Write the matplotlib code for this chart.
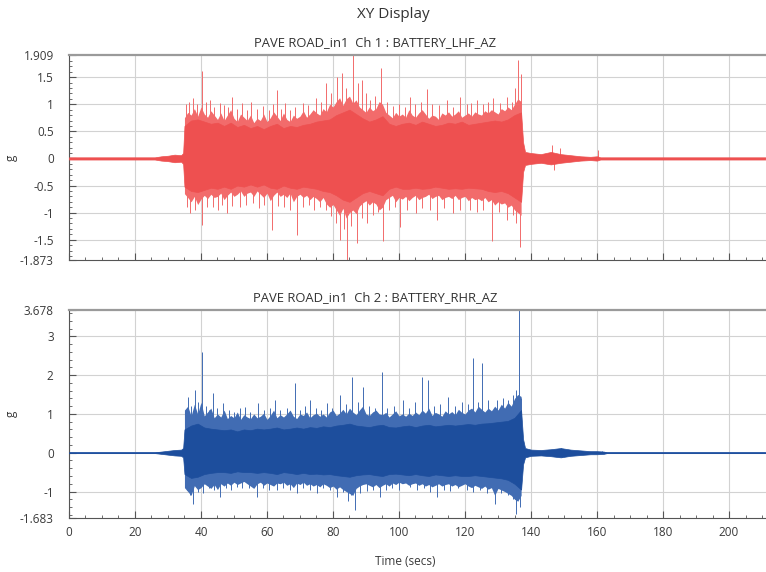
import numpy as np
import matplotlib.pyplot as plt
from matplotlib.ticker import MultipleLocator, FixedLocator

plt.rcParams['font.family'] = ['Open Sans', 'DejaVu Sans']

# ---- Ch 1 : BATTERY_LHF_AZ (in g) ----
# dense core envelope
t1_core = [0, 26, 28, 30, 32, 34, 34.6, 35, 37, 39, 41, 43, 45, 47, 49, 51, 53, 55, 57, 59,
           61, 63, 65, 67, 69, 71, 73, 75, 77, 79, 81, 83, 85, 87, 89, 91, 93, 95, 97, 99,
           101, 103, 105, 107, 109, 111, 113, 115, 117, 119, 121, 123, 125, 127, 129, 131,
           133, 135, 137, 137.6, 138.2, 140, 143, 146, 149, 152, 155, 158, 160, 161, 163, 211]
up1_core = [0.02, 0.02, 0.04, 0.05, 0.07, 0.06, 0.1, 0.6, 0.7, 0.72, 0.68, 0.64, 0.66, 0.6, 0.66, 0.58, 0.62, 0.56, 0.6, 0.54,
            0.6, 0.64, 0.56, 0.6, 0.58, 0.62, 0.64, 0.68, 0.7, 0.72, 0.8, 0.85, 0.9, 0.82, 0.74, 0.68, 0.72, 0.78, 0.64, 0.6,
            0.64, 0.66, 0.62, 0.68, 0.64, 0.6, 0.62, 0.66, 0.64, 0.68, 0.62, 0.64, 0.66, 0.68, 0.7, 0.68,
            0.72, 0.8, 0.85, 0.3, 0.12, 0.1, 0.08, 0.12, 0.08, 0.06, 0.04, 0.03, 0.04, 0.02, 0.02, 0.02]
lo1_core = [-0.02, -0.02, -0.04, -0.05, -0.07, -0.06, -0.1, -0.52, -0.6, -0.62, -0.58, -0.54, -0.56, -0.52, -0.56, -0.5, -0.52, -0.48, -0.52, -0.48,
            -0.54, -0.56, -0.5, -0.54, -0.56, -0.52, -0.54, -0.56, -0.6, -0.62, -0.68, -0.76, -0.8, -0.72, -0.64, -0.6, -0.64, -0.68, -0.56, -0.52,
            -0.56, -0.56, -0.54, -0.56, -0.55, -0.52, -0.54, -0.56, -0.55, -0.56, -0.54, -0.55, -0.56, -0.6, -0.62, -0.6,
            -0.64, -0.72, -0.8, -0.25, -0.12, -0.1, -0.08, -0.11, -0.08, -0.06, -0.04, -0.03, -0.04, -0.02, -0.02, -0.02]

# lighter fringe, one value per second from 35 s to 137 s
t1_fr = list(range(35, 138))
up1_fr = [0.75, 0.85, 0.8, 0.92, 0.78, 0.95, 0.82, 0.76, 0.88, 0.8,
          0.72, 0.84, 0.7, 0.8, 0.9, 0.74, 0.68, 0.82, 0.76, 0.7,
          0.8, 0.66, 0.74, 0.7, 0.82, 0.68, 0.75, 0.86, 0.78, 0.7,
          0.84, 0.72, 0.68, 0.8, 0.74, 0.78, 0.88, 0.76, 0.82, 0.9,
          0.84, 0.8, 0.92, 0.86, 1.0, 0.95, 1.05, 1.12, 0.98, 1.1,
          1.15, 1.02, 1.08, 0.95, 0.9, 0.85, 0.95, 0.88, 0.92, 1.05,
          1.0, 0.85, 0.8, 0.75, 0.85, 0.78, 0.82, 0.76, 0.9, 0.8,
          0.76, 0.84, 0.9, 0.82, 0.74, 0.8, 0.78, 0.72, 0.84, 0.8,
          0.86, 0.78, 0.82, 0.88, 0.76, 0.8, 0.84, 0.78, 0.86, 0.82,
          0.8, 0.88, 0.84, 0.9, 0.86, 0.82, 0.92, 0.88, 0.95, 0.9,
          1.0, 1.1, 1.05]
lo1_fr = [-0.65, -0.72, -0.8, -0.7, -0.85, -0.75, -0.68, -0.74, -0.66, -0.72,
          -0.7, -0.64, -0.76, -0.68, -0.62, -0.7, -0.66, -0.6, -0.7, -0.64,
          -0.62, -0.7, -0.6, -0.66, -0.72, -0.64, -0.78, -0.68, -0.62, -0.7,
          -0.66, -0.72, -0.64, -0.8, -0.7, -0.66, -0.72, -0.68, -0.76, -0.7,
          -0.74, -0.8, -0.72, -0.84, -0.9, -0.85, -0.95, -1.05, -0.92, -1.1,
          -1.0, -0.95, -1.02, -0.88, -0.82, -0.78, -0.86, -0.8, -0.84, -0.95,
          -0.9, -0.76, -0.72, -0.68, -0.8, -0.72, -0.75, -0.7, -0.78, -0.72,
          -0.68, -0.76, -0.72, -0.7, -0.66, -0.74, -0.7, -0.68, -0.76, -0.72,
          -0.7, -0.74, -0.68, -0.76, -0.72, -0.7, -0.78, -0.72, -0.76, -0.74,
          -0.78, -0.72, -0.8, -0.76, -0.86, -0.8, -0.84, -0.82, -0.9, -0.86,
          -0.95, -1.0, -1.05]

# single spikes above / below
t1_pk = [35.5, 36.5, 37.7, 38.8, 40.2, 41.5, 42.7, 44.0, 45.7, 47.0, 48.2, 49.3, 50.8, 52.3, 53.8, 55.3, 57.0,
         58.9, 60.5, 61.8, 63.0, 64.3, 65.5, 67.0, 68.5, 71.0, 72.5, 75.0, 76.5, 78.0, 79.5, 81.1, 82.6, 84.0,
         86.1, 87.5, 88.7, 90.0, 91.2, 92.8, 94.7, 96.5, 98.3, 100.0, 101.8, 103.3, 105.0, 106.8, 108.4, 110.0,
         112.0, 114.4, 116.5, 118.5, 120.5, 121.8, 123.5, 125.5, 127.0, 128.6, 130.5, 132.7, 134.2, 135.2, 136.2, 137.1,
         146.5, 148.8, 160.2]
v1_pk = [1.0, 1.05, 1.11, 1.0, 1.62, 1.05, 1.08, 0.95, 1.02, 0.98, 0.95, 1.14, 0.92, 1.02, 0.9, 1.05, 0.92,
         0.96, 0.9, 1.0, 1.26, 0.92, 1.02, 0.9, 0.95, 1.02, 0.98, 1.11, 1.05, 1.39, 1.2, 1.51, 1.57, 1.3,
         1.91, 1.4, 1.45, 1.2, 1.08, 1.15, 1.66, 1.05, 0.96, 1.0, 0.95, 1.14, 1.0, 1.05, 1.29, 1.0,
         0.98, 1.08, 0.95, 1.14, 1.0, 1.02, 1.08, 1.0, 1.05, 1.11, 1.02, 1.14, 1.05, 1.3, 1.82, 1.55,
         0.25, 0.2, 0.15]
t1_tr = [35.8, 36.7, 38.2, 40.2, 41.7, 43.7, 45.2, 46.5, 47.8, 49.5, 51.8, 53.5, 55.9, 57.5, 59.2, 61.5,
         63.2, 65.2, 67.0, 69.1, 71.0, 72.8, 74.2, 76.0, 77.8, 79.3, 80.8, 82.1, 83.2, 84.1, 85.5, 87.2,
         88.8, 90.2, 92.0, 93.5, 95.2, 97.0, 98.8, 100.3, 102.5, 105.3, 107.0, 109.5, 111.4, 113.5, 116.4,
         118.5, 121.5, 123.5, 125.5, 128.1, 130.2, 132.7, 134.5, 135.6, 136.7, 147.0]
v1_tr = [-0.9, -1.01, -0.95, -1.23, -0.9, -0.89, -0.95, -0.85, -1.01, -0.88, -0.89, -0.85, -0.83, -0.92, -0.85, -1.32,
         -0.88, -0.89, -0.95, -1.41, -0.9, -0.85, -0.95, -0.9, -0.95, -1.07, -1.2, -1.5, -1.3, -1.87, -1.25, -1.56,
         -1.1, -1.2, -1.05, -0.98, -1.53, -0.95, -0.9, -1.26, -0.95, -1.01, -0.92, -0.95, -1.13, -0.92, -1.01,
         -0.95, -0.95, -0.98, -0.95, -1.53, -0.98, -1.13, -1.05, -1.2, -1.63, -0.22]

# ---- Ch 2 : BATTERY_RHR_AZ ----
t2_core = [0, 26, 28, 30, 32, 34, 34.6, 35, 37, 39, 41, 43, 45, 47, 49, 51, 53, 55, 57, 59,
           61, 63, 65, 67, 69, 71, 73, 75, 77, 79, 81, 83, 85, 87, 89, 91, 93, 95, 97, 99,
           101, 103, 105, 107, 109, 111, 113, 115, 117, 119, 121, 123, 125, 127, 129, 131,
           133, 135, 137, 137.6, 138.2, 140, 143, 146, 149, 152, 155, 158, 160, 162, 163, 211]
up2_core = [0.01, 0.01, 0.03, 0.05, 0.07, 0.08, 0.12, 0.6, 0.7, 0.75, 0.65, 0.62, 0.6, 0.58, 0.6, 0.55, 0.6, 0.58, 0.62, 0.6,
            0.62, 0.65, 0.6, 0.62, 0.65, 0.62, 0.66, 0.64, 0.68, 0.66, 0.7, 0.72, 0.75, 0.7, 0.68, 0.66, 0.7, 0.72, 0.66, 0.65,
            0.68, 0.7, 0.66, 0.7, 0.72, 0.68, 0.7, 0.72, 0.7, 0.72, 0.74, 0.72, 0.75, 0.76, 0.78, 0.8,
            0.82, 0.9, 1.1, 0.35, 0.12, 0.08, 0.07, 0.09, 0.12, 0.08, 0.06, 0.04, 0.04, 0.03, 0.01, 0.01]
lo2_core = [-0.01, -0.01, -0.03, -0.05, -0.07, -0.08, -0.12, -0.55, -0.65, -0.62, -0.55, -0.52, -0.5, -0.5, -0.52, -0.48, -0.5, -0.5, -0.52, -0.5,
            -0.52, -0.55, -0.5, -0.52, -0.55, -0.52, -0.55, -0.54, -0.56, -0.55, -0.58, -0.6, -0.62, -0.58, -0.56, -0.55, -0.58, -0.6, -0.55, -0.54,
            -0.56, -0.58, -0.55, -0.58, -0.6, -0.56, -0.58, -0.6, -0.58, -0.6, -0.6, -0.58, -0.6, -0.62, -0.64, -0.66,
            -0.7, -0.8, -0.95, -0.3, -0.12, -0.08, -0.07, -0.09, -0.12, -0.08, -0.06, -0.04, -0.04, -0.03, -0.01, -0.01]

t2_fr = list(range(35, 138))
up2_fr = [1.1, 1.2, 0.95, 1.25, 1.0, 1.3, 0.95, 1.05, 1.15, 0.9,
          1.0, 0.92, 1.1, 0.88, 0.96, 0.9, 1.05, 0.86, 0.98, 0.92,
          0.88, 1.0, 0.9, 0.94, 1.02, 0.86, 0.96, 1.1, 0.9, 0.98,
          0.92, 1.0, 1.1, 0.94, 0.88, 1.0, 0.96, 1.05, 0.9, 0.98,
          1.02, 0.94, 1.0, 0.92, 1.05, 1.1, 0.96, 1.02, 1.12, 1.0,
          1.15, 1.05, 0.98, 1.1, 1.2, 1.0, 0.96, 1.05, 1.1, 1.0,
          0.98, 1.04, 0.92, 1.0, 1.08, 0.95, 1.0, 0.94, 1.02, 0.96,
          1.05, 0.98, 1.1, 1.02, 1.15, 0.96, 1.04, 1.0, 0.94, 1.08,
          1.0, 1.06, 0.98, 1.12, 1.04, 1.0, 1.1, 1.15, 1.05, 1.2,
          1.12, 1.05, 1.15, 1.08, 1.2, 1.1, 1.25, 1.15, 1.3, 1.2,
          1.4, 1.5, 1.45]
lo2_fr = [-0.9, -1.0, -1.1, -0.85, -0.95, -0.9, -0.8, -0.86, -0.92, -0.82,
          -0.95, -0.8, -0.86, -0.78, -0.84, -0.76, -0.82, -0.78, -0.74, -0.8,
          -0.86, -0.92, -0.8, -0.76, -0.84, -0.78, -0.82, -0.86, -0.78, -0.8,
          -0.76, -0.84, -0.8, -0.9, -0.78, -0.82, -0.76, -0.84, -0.8, -0.86,
          -0.82, -0.88, -0.8, -0.84, -0.9, -0.86, -0.94, -0.88, -0.95, -1.0,
          -1.05, -1.1, -0.92, -0.86, -0.82, -0.8, -0.84, -0.88, -0.82, -0.9,
          -0.84, -0.8, -0.86, -0.78, -0.82, -0.76, -0.8, -0.78, -0.84, -0.8,
          -0.78, -0.84, -0.8, -0.86, -0.82, -0.88, -0.84, -0.8, -0.86, -0.82,
          -0.8, -0.86, -0.82, -0.88, -0.84, -0.8, -0.86, -0.9, -0.84, -0.88,
          -0.92, -0.86, -0.94, -0.9, -1.1, -0.92, -0.96, -1.0, -1.05, -1.1,
          -1.2, -1.25, -1.1]

t2_pk = [35.5, 36.2, 37.0, 38.2, 39.2, 40.2, 41.5, 42.5, 43.7, 45.0, 46.8, 48.5, 50.0, 51.8, 53.3, 55.0, 57.4,
         59.0, 60.8, 62.4, 64.0, 66.0, 68.5, 70.0, 71.5, 73.0, 75.0, 76.5, 78.1, 79.8, 82.1, 84.0, 85.7, 87.5,
         89.2, 91.0, 92.8, 94.8, 96.5, 98.5, 101.3, 103.0, 105.0, 106.9, 108.9, 110.5, 112.5, 115.0, 117.0, 119.0,
         120.8, 122.5, 124.0, 125.1, 127.0, 129.6, 131.5, 133.0, 134.5, 135.5, 136.4, 137.0, 149.0, 161.5]
v2_pk = [1.1, 1.44, 1.2, 1.62, 1.3, 2.6, 1.2, 1.1, 1.53, 1.15, 1.27, 1.1, 1.05, 1.15, 1.18, 1.05, 1.27,
         1.1, 1.15, 1.36, 1.1, 1.15, 1.79, 1.1, 1.2, 1.36, 1.15, 1.1, 1.27, 1.15, 1.49, 1.25, 1.96, 1.3,
         1.7, 1.2, 1.15, 2.09, 1.15, 1.2, 1.36, 1.15, 1.3, 1.96, 1.87, 1.2, 1.25, 1.44, 1.2, 1.3,
         1.25, 2.43, 1.3, 2.3, 1.35, 1.36, 1.4, 1.35, 1.5, 1.62, 3.678, 1.4, 0.12, 0.05]
t2_tr = [35.8, 36.8, 37.7, 39.0, 40.7, 42.5, 44.0, 45.8, 47.5, 49.2, 50.8, 52.5, 54.5, 56.9, 58.8, 60.5, 62.9,
         64.8, 67.0, 69.0, 71.0, 73.0, 75.1, 77.0, 79.0, 81.1, 83.0, 84.5, 85.5, 86.7, 88.2, 90.2, 92.0, 94.2,
         96.0, 98.0, 100.0, 103.3, 105.5, 107.5, 109.5, 111.4, 113.5, 115.5, 118.0, 120.5, 122.5, 124.5, 126.8,
         129.1, 131.0, 133.0, 134.5, 135.6, 136.6, 149.5]
v2_tr = [-0.95, -1.1, -1.31, -1.0, -1.05, -0.9, -0.95, -1.14, -0.9, -0.95, -0.88, -0.9, -0.92, -1.14, -0.9, -0.95, -0.96,
         -0.9, -0.95, -1.05, -0.92, -0.95, -1.05, -0.9, -0.95, -1.14, -1.0, -1.25, -1.1, -1.48, -1.05, -0.98, -0.95, -1.14,
         -0.95, -0.92, -0.95, -0.88, -0.95, -0.92, -1.0, -1.14, -0.95, -0.98, -0.92, -0.96, -1.0, -0.95, -1.05,
         -1.31, -1.05, -1.1, -1.2, -1.57, -1.4, -0.12]

ylim1 = (-1.873, 1.909)
ylim2 = (-1.683, 3.678)
yticks1 = [-1.873, -1.5, -1, -0.5, 0, 0.5, 1, 1.5, 1.909]
yticks2 = [-1.683, -1, 0, 1, 2, 3, 3.678]
xticks = [0, 20, 40, 60, 80, 100, 120, 140, 160, 180, 200]


def style(ax, ylim, yticks, ygrid, yminor):
    ax.set_xlim(0, 211.2)
    ax.set_ylim(*ylim)
    ax.set_xticks(xticks)
    ax.xaxis.set_minor_locator(MultipleLocator(5))
    ax.yaxis.set_major_locator(FixedLocator(yticks))
    ax.set_yticklabels(['%g' % v for v in yticks])
    ax.yaxis.set_minor_locator(MultipleLocator(yminor))
    ax.tick_params(which='both', direction='in', color='#555555', labelsize=8.5,
                   labelcolor='#3a3a3a', top=False, right=False)
    ax.tick_params(axis='y', which='major', pad=11)
    ax.tick_params(axis='x', which='major', pad=6)
    ax.tick_params(which='major', length=5, width=0.8)
    ax.tick_params(which='minor', length=2.5, width=0.6)
    for x in xticks:
        ax.axvline(x, color='#d2d2d2', lw=0.8, zorder=0)
    for y in ygrid:
        ax.axhline(y, color='#d2d2d2', lw=0.8, zorder=0)
    ax.spines['right'].set_visible(False)
    ax.spines['top'].set_color('#9a9a9a')
    ax.spines['top'].set_linewidth(1.6)
    ax.spines['left'].set_color('#555555')
    ax.spines['bottom'].set_color('#555555')
    ax.set_ylabel('g', fontsize=8.5, color='#3a3a3a', rotation=90)
    ax.yaxis.set_label_coords(-0.073, 0.5)


fig = plt.figure(figsize=(7.66, 5.72), dpi=100)
ax1 = fig.add_axes([0.090, 0.5455, 0.910, 0.3584])
ax2 = fig.add_axes([0.090, 0.0944, 0.910, 0.3636])

red_core = '#ee5050'
red_spk = '#f26b6b'
ax1.plot(t1_core, np.zeros(len(t1_core)), color=red_core, lw=0.9, zorder=1.5)
ax1.fill_between(t1_fr, lo1_fr, up1_fr, color=red_spk, lw=0, zorder=2)
ax1.vlines(t1_pk, 0, v1_pk, color=red_spk, lw=0.7, zorder=2)
ax1.vlines(t1_tr, 0, v1_tr, color=red_spk, lw=0.7, zorder=2)
ax1.fill_between(t1_core, lo1_core, up1_core, color=red_core, lw=0.5, zorder=3)

blue_core = '#1d4e9d'
blue_spk = '#416cb3'
ax2.plot(t2_core, np.zeros(len(t2_core)), color='#4a76bd', lw=1.3, zorder=1.5)
ax2.fill_between(t2_fr, lo2_fr, up2_fr, color=blue_spk, lw=0, zorder=2)
ax2.vlines(t2_pk, 0, v2_pk, color=blue_spk, lw=0.7, zorder=2)
ax2.vlines(t2_tr, 0, v2_tr, color=blue_spk, lw=0.7, zorder=2)
ax2.fill_between(t2_core, lo2_core, up2_core, color=blue_core, lw=0.5, zorder=3)

style(ax1, ylim1, yticks1, [-1.5, -1, -0.5, 0, 0.5, 1, 1.5], 0.1)
style(ax2, ylim2, yticks2, [-1, 0, 1, 2, 3], 0.2)
ax1.set_xticklabels([])
ax2.set_xlabel('Time (secs)', fontsize=8.5, color='#3a3a3a')
ax2.xaxis.set_label_coords(0.482, -0.178)

fig.text(0.514, 0.974, 'XY Display', ha='center', va='center', fontsize=11, color='#333333')
fig.text(0.49, 0.925, 'PAVE ROAD_in1  Ch 1 : BATTERY_LHF_AZ', ha='center', va='center',
         fontsize=9.4, color='#333333')
fig.text(0.49, 0.479, 'PAVE ROAD_in1  Ch 2 : BATTERY_RHR_AZ', ha='center', va='center',
         fontsize=9.4, color='#333333')

fig.savefig('out.png', dpi=100)
